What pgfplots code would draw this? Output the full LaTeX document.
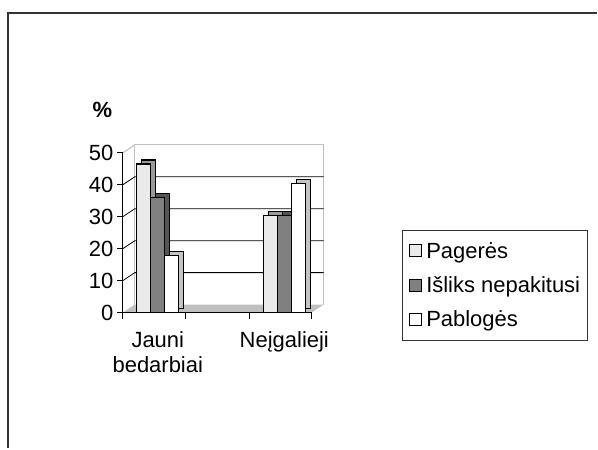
\documentclass[border=0pt]{standalone}
\usepackage{fontspec}
\setmainfont{Liberation Sans}
\usepackage{pgfplots}
\usepackage{pgfplotstable}
\pgfplotsset{compat=1.18}

\definecolor{barlight}{HTML}{EAEAEA}
\definecolor{barlightside}{HTML}{9A9A9A}
\definecolor{bardark}{HTML}{808080}
\definecolor{bardarkside}{HTML}{555555}
\definecolor{barwhiteside}{HTML}{C4C4C4}
\definecolor{wallgray}{HTML}{C0C0C0}
\definecolor{framegray}{HTML}{333333}

% 0 = Jauni bedarbiai, 1 = Neigalieji
\pgfplotstableread{
cat pag isl pab
0   46.5 36   18
1   30.5 30.5 40.5
}\data

\newcommand{\chartfont}{\fontsize{22bp}{24bp}\selectfont}

\begin{document}
\begin{tikzpicture}[x=1bp,y=1bp]
\draw[framegray, line width=1.6bp] (8,0) -- (8,435.7) -- (598,435.7);
\node[font=\chartfont\bfseries] at (102.5,338.5) {\%};
\begin{axis}[
    set layers,
    scale only axis,
    width=189bp, height=160bp,
    at={(123bp,136bp)}, anchor=south west,
    xmin=-0.2762, xmax=1.2155,
    ymin=0, ymax=50,
    ytick={0,10,...,50},
    xtick={-0.2762,0.221,0.726,1.2155},
    xticklabels={},
    extra x ticks={0,1},
    extra x tick labels={{Jauni\\bedarbiai},{Neįgalieji}},
    extra x tick style={major tick length=0pt,
        tick label style={align=center, yshift=-16bp,
          font=\fontsize{22bp}{25bp}\selectfont}},
    axis x line*=bottom, axis y line*=left,
    axis line style={black, line width=0.8bp},
    tick align=outside,
    major tick length=6bp,
    tick style={black, line width=0.8bp},
    tick label style={font=\chartfont},
    /pgf/number format/assume math mode=true,
    clip=false,
    legend style={at={(1.478,0.519)}, anchor=north west,
        draw=framegray, line width=1bp, font=\chartfont,
        inner xsep=5bp, inner ysep=10bp, row sep=13bp},
    legend cell align=left,
    legend image code/.code={
        \draw[#1, line width=1bp] (2bp,-6bp) rectangle (14bp,6bp);
        \path[draw=none, fill=none] (0bp,0bp) -- (17bp,0bp);},
]
\begin{pgfonlayer}{axis background}
  \fill[wallgray] (rel axis cs:0,0) -- (rel axis cs:1,0)
     -- ([shift={(12bp,8bp)}]rel axis cs:1,0) -- ([shift={(12bp,8bp)}]rel axis cs:0,0) -- cycle;
  \draw[wallgray, line width=1.2bp] ([shift={(12bp,8bp)}]rel axis cs:0,0)
     -- ([shift={(12bp,8bp)}]rel axis cs:0,1) -- ([shift={(12bp,8bp)}]rel axis cs:1,1)
     -- ([shift={(12bp,8bp)}]rel axis cs:1,0);
  \draw[wallgray, line width=1bp] (rel axis cs:0,1) -- ([shift={(12bp,8bp)}]rel axis cs:0,1);
  \pgfplotsinvokeforeach{10,20,30,40}{
    \draw[black, line width=0.8bp] (axis cs:-0.2762,#1) -- ([shift={(12bp,8bp)}]axis cs:-0.2762,#1)
       -- ([shift={(12bp,8bp)}]axis cs:1.2155,#1);
  }
\end{pgfonlayer}

% Pageres
\addplot[ybar, bar width=14bp, bar shift=-14bp, xshift=5bp, yshift=4bp,
    fill=barlightside, draw=black, line width=1.1bp, forget plot]
    table[x=cat, y=pag]{\data};
\addplot[ybar, bar width=14bp, bar shift=-14bp, fill=barlight, draw=black, line width=1.1bp]
    table[x=cat, y=pag]{\data};
\addlegendentry{Pagerės}
% Isliks nepakitusi
\addplot[ybar, bar width=14bp, bar shift=0bp, xshift=5bp, yshift=4bp,
    fill=bardarkside, draw=black, line width=1.1bp, forget plot]
    table[x=cat, y=isl]{\data};
\addplot[ybar, bar width=14bp, bar shift=0bp, fill=bardark, draw=black, line width=1.1bp]
    table[x=cat, y=isl]{\data};
\addlegendentry{Išliks nepakitusi}
% Pabloges
\addplot[ybar, bar width=14bp, bar shift=14bp, xshift=5bp, yshift=4bp,
    fill=barwhiteside, draw=black, line width=1.1bp, forget plot]
    table[x=cat, y=pab]{\data};
\addplot[ybar, bar width=14bp, bar shift=14bp, fill=white, draw=black, line width=1.1bp]
    table[x=cat, y=pab]{\data};
\addlegendentry{Pablogės}
\end{axis}
\path (0,0) rectangle (598,449);
\end{tikzpicture}
\end{document}
